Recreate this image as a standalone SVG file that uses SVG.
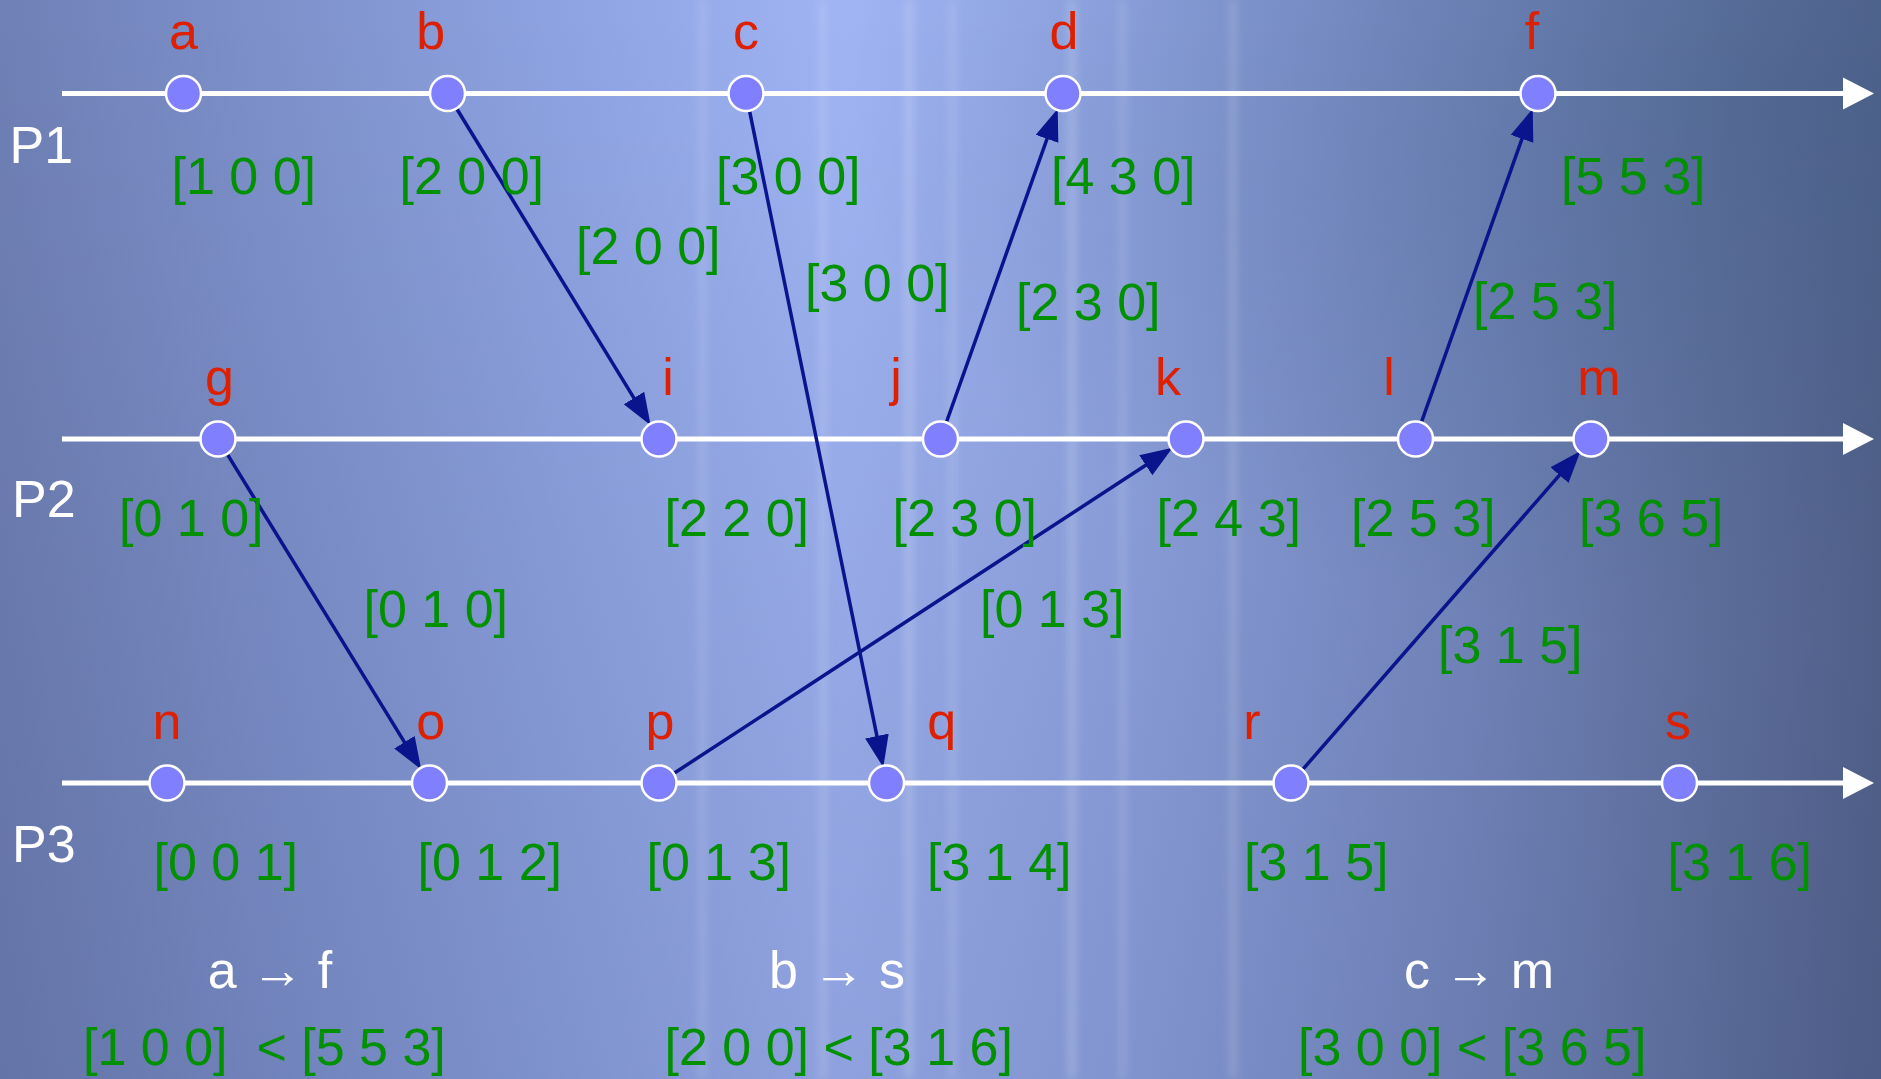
<svg xmlns="http://www.w3.org/2000/svg" width="1881" height="1079" viewBox="0 0 1881 1079">
<defs>
<linearGradient id="bg" x1="0" y1="0" x2="1" y2="0">
<stop offset="0" stop-color="#6f80b6"/>
<stop offset="0.3" stop-color="#8ea3e2"/>
<stop offset="0.45" stop-color="#a0b4f4"/>
<stop offset="0.6" stop-color="#90a4e2"/>
<stop offset="0.8" stop-color="#7487bd"/>
<stop offset="1" stop-color="#55658f"/>
</linearGradient>
<radialGradient id="vig" cx="0.95" cy="0.1" r="0.5">
<stop offset="0" stop-color="#3a5a80" stop-opacity="0.35"/>
<stop offset="1" stop-color="#3a5a80" stop-opacity="0"/>
</radialGradient>
<linearGradient id="vert" x1="0" y1="0" x2="0" y2="1">
<stop offset="0" stop-color="#000000" stop-opacity="0"/>
<stop offset="1" stop-color="#101a40" stop-opacity="0.12"/>
</linearGradient>
<filter id="soft" x="-0.5" y="0" width="2" height="1"><feGaussianBlur stdDeviation="4"/></filter>
<marker id="ah" markerUnits="userSpaceOnUse" markerWidth="34" markerHeight="26" refX="20" refY="12" orient="auto">
<path d="M0,0 L32,12 L0,24 z" fill="#0a148c"/>
</marker>
<style>
.t{font-family:"Liberation Sans",Arial,sans-serif;font-size:52px}
.v{fill:#009000}
.l{fill:#dd2000;text-anchor:middle}
.w{fill:#ffffff}
.tl{stroke:#ffffff;stroke-width:5;fill:none}
.ta{fill:#ffffff}
.n{fill:#8080ff;stroke:#ffffff;stroke-width:2.5}
.m{stroke:#0a148c;stroke-width:3.5;fill:none;marker-end:url(#ah)}
</style>
</defs>
<rect width="1881" height="1079" fill="url(#bg)"/>
<rect width="1881" height="1079" fill="url(#vig)"/>
<rect width="1881" height="1079" fill="url(#vert)"/>
<g opacity="0.2" fill="#ffffff" filter="url(#soft)">
<rect x="905" y="0" width="8" height="1079"/>
<rect x="950" y="0" width="5" height="1079"/>
<rect x="1068" y="0" width="8" height="1079"/>
<rect x="1120" y="0" width="5" height="1079"/>
<rect x="820" y="0" width="6" height="1079"/>
<rect x="700" y="0" width="5" height="1079"/>
<rect x="1230" y="0" width="6" height="1079"/>
</g>

<g id="timelines">
<line class="tl" x1="62" y1="93.6" x2="1846" y2="93.6"/>
<polygon class="ta" points="1843,77.6 1874,93.6 1843,109.6"/>
<line class="tl" x1="62" y1="439" x2="1846" y2="439"/>
<polygon class="ta" points="1843,423 1874,439 1843,455"/>
<line class="tl" x1="62" y1="783" x2="1846" y2="783"/>
<polygon class="ta" points="1843,767 1874,783 1843,799"/>
<text class="t w" x="9.6" y="163">P1</text>
<text class="t w" x="12" y="517">P2</text>
<text class="t w" x="12" y="862">P3</text>
</g>

<g id="connectors">
<line class="m" x1="456.9" y1="109" x2="644.4" y2="415.1"/>
<line class="m" x1="749.6" y1="111.2" x2="880.9" y2="755.6"/>
<line class="m" x1="946.5" y1="422" x2="1053.7" y2="120"/>
<line class="m" x1="1421.5" y1="422" x2="1528.7" y2="120"/>
<line class="m" x1="227.4" y1="454.3" x2="414.9" y2="759.2"/>
<line class="m" x1="674.1" y1="773.2" x2="1162.5" y2="454.3"/>
<line class="m" x1="1302.8" y1="769.4" x2="1572.6" y2="460.1"/>
<text class="t v" x="576" y="264">[2 0 0]</text>
<text class="t v" x="805" y="301">[3 0 0]</text>
<text class="t v" x="1016" y="320">[2 3 0]</text>
<text class="t v" x="1473" y="319">[2 5 3]</text>
<text class="t v" x="363.5" y="627">[0 1 0]</text>
<text class="t v" x="980" y="627">[0 1 3]</text>
<text class="t v" x="1438" y="663">[3 1 5]</text>
</g>

<g id="node-a"><circle class="n" cx="183.5" cy="93.6" r="17.5"/><text class="t l" x="183.5" y="49">a</text><text class="t v" x="171.5" y="194">[1 0 0]</text></g>
<g id="node-b"><circle class="n" cx="447.5" cy="93.6" r="17.5"/><text class="t l" x="430.7" y="49">b</text><text class="t v" x="399.5" y="194">[2 0 0]</text></g>
<g id="node-c"><circle class="n" cx="746" cy="93.6" r="17.5"/><text class="t l" x="746" y="49">c</text><text class="t v" x="716" y="194">[3 0 0]</text></g>
<g id="node-d"><circle class="n" cx="1063" cy="93.6" r="17.5"/><text class="t l" x="1064" y="49">d</text><text class="t v" x="1051" y="194">[4 3 0]</text></g>
<g id="node-f"><circle class="n" cx="1538" cy="93.6" r="17.5"/><text class="t l" x="1532" y="49">f</text><text class="t v" x="1561" y="194">[5 5 3]</text></g>

<g id="node-g"><circle class="n" cx="218" cy="439" r="17.5"/><text class="t l" x="219.5" y="395">g</text><text class="t v" x="119" y="536">[0 1 0]</text></g>
<g id="node-i"><circle class="n" cx="659" cy="439" r="17.5"/><text class="t l" x="668" y="395">i</text><text class="t v" x="664.5" y="536">[2 2 0]</text></g>
<g id="node-j"><circle class="n" cx="940.5" cy="439" r="17.5"/><text class="t l" x="896" y="395">j</text><text class="t v" x="892.5" y="536">[2 3 0]</text></g>
<g id="node-k"><circle class="n" cx="1186" cy="439" r="17.5"/><text class="t l" x="1168" y="395">k</text><text class="t v" x="1156.5" y="536">[2 4 3]</text></g>
<g id="node-l"><circle class="n" cx="1415.5" cy="439" r="17.5"/><text class="t l" x="1389" y="395">l</text><text class="t v" x="1351" y="536">[2 5 3]</text></g>
<g id="node-m"><circle class="n" cx="1591" cy="439" r="17.5"/><text class="t l" x="1599" y="395">m</text><text class="t v" x="1579" y="536">[3 6 5]</text></g>

<g id="node-n"><circle class="n" cx="167" cy="783" r="17.5"/><text class="t l" x="167" y="739">n</text><text class="t v" x="153.5" y="880">[0 0 1]</text></g>
<g id="node-o"><circle class="n" cx="429.5" cy="783" r="17.5"/><text class="t l" x="430.7" y="739">o</text><text class="t v" x="417.5" y="880">[0 1 2]</text></g>
<g id="node-p"><circle class="n" cx="659" cy="783" r="17.5"/><text class="t l" x="660" y="739">p</text><text class="t v" x="646.5" y="880">[0 1 3]</text></g>
<g id="node-q"><circle class="n" cx="886.5" cy="783" r="17.5"/><text class="t l" x="941.7" y="739">q</text><text class="t v" x="927" y="880">[3 1 4]</text></g>
<g id="node-r"><circle class="n" cx="1291" cy="783" r="17.5"/><text class="t l" x="1252" y="739">r</text><text class="t v" x="1244" y="880">[3 1 5]</text></g>
<g id="node-s"><circle class="n" cx="1679.5" cy="783" r="17.5"/><text class="t l" x="1678" y="739">s</text><text class="t v" x="1667.5" y="880">[3 1 6]</text></g>

<g id="summary">
<text class="t w" x="270" y="988" text-anchor="middle">a → f</text>
<text class="t w" x="837" y="988" text-anchor="middle">b → s</text>
<text class="t w" x="1479" y="988" text-anchor="middle">c → m</text>
<text class="t v" x="83" y="1065" xml:space="preserve">[1 0 0]  &lt; [5 5 3]</text>
<text class="t v" x="664.5" y="1065">[2 0 0] &lt; [3 1 6]</text>
<text class="t v" x="1298" y="1065">[3 0 0] &lt; [3 6 5]</text>
</g>
</svg>
